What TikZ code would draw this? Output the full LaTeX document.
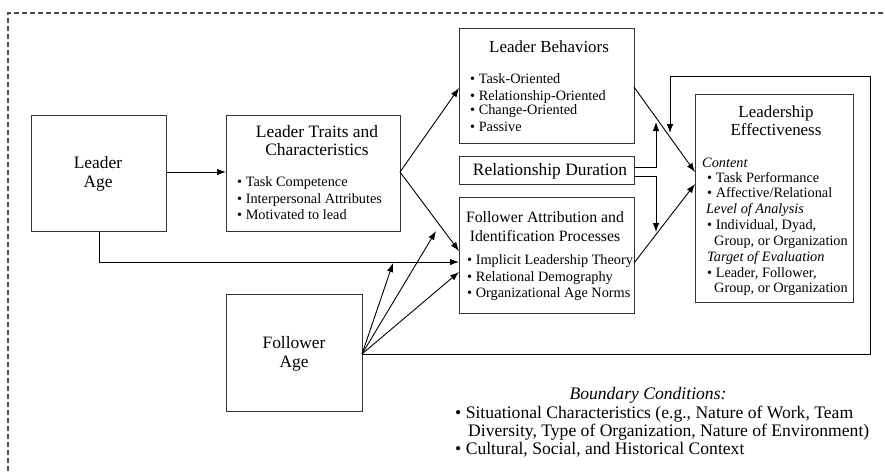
\documentclass[tikz,border=0pt]{standalone}
\usepackage{fontspec}
\setmainfont{Liberation Serif}
\usetikzlibrary{arrows.meta,calc}

\begin{document}
\begin{tikzpicture}[x=1pt,y=-1pt,
  box/.style={draw=black!80, line width=1.3pt, anchor=north west, inner sep=0pt},
  ttl/.style={font=\fontsize{17.4}{19}\selectfont, inner sep=0pt, text height=12pt, text depth=3.5pt},
  ttls/.style={ttl, font=\fontsize{15.8}{18}\selectfont},
  ttlm/.style={ttl, font=\fontsize{16.9}{18}\selectfont},
  itm/.style={font=\fontsize{14.3}{16}\selectfont, inner sep=0pt, text height=10pt, text depth=3pt, anchor=west},
  bnd/.style={font=\fontsize{17.6}{18}\selectfont, inner sep=0pt, text height=12pt, text depth=3.5pt, anchor=west},
  arr/.style={draw=black, line width=0.9pt, -{Latex[length=9pt,width=6.5pt]}},
  frame/.style={draw=black!70, line width=1.1pt, dash pattern=on 5pt off 3pt}
]
\useasboundingbox (0,0) rectangle (885,471);

% dashed boundary frame
\coordinate (frBL) at (8,471);
\coordinate (frTL) at (8,13);
\coordinate (frTR) at (885,13);
\draw[frame] (frBL) -- (frTL) -- (frTR);

% boxes
\node[box, minimum width=135pt, minimum height=116pt] (la)   at (31,115)  {};
\node[box, minimum width=174pt, minimum height=116pt] (lt)   at (226,115) {};
\node[box, minimum width=175pt, minimum height=115pt] (lb)   at (459,28)  {};
\node[box, minimum width=175pt, minimum height=28pt]  (rd)   at (459,156) {};
\node[box, minimum width=175pt, minimum height=116pt] (fa)   at (459,197) {};
\node[box, minimum width=158pt, minimum height=208pt] (le)   at (695,94)  {};
\node[box, minimum width=136pt, minimum height=117pt] (fage) at (226,294) {};

% Leader Age
\node[ttl] (la1) at (98,164) {Leader};
\node[ttl] (la2) at (98,183) {Age};

% Follower Age
\node[ttl] (fg1) at (294,344) {Follower};
\node[ttl] (fg2) at (294,363) {Age};

% Leader Traits and Characteristics
\node[ttl] (lt1) at (317,133) {Leader Traits and};
\node[ttl] (lt2) at (317,151) {Characteristics};
\node[itm] (lt3) at (237,183) {\textbullet\ Task Competence};
\node[itm] (lt4) at (237,199.5) {\textbullet\ Interpersonal Attributes};
\node[itm] (lt5) at (237,216) {\textbullet\ Motivated to lead};

% Leader Behaviors
\node[ttlm] (lb1) at (549,48) {Leader Behaviors};
\node[itm] (lb2) at (470,80) {\textbullet\ Task-Oriented};
\node[itm] (lb3) at (470,97) {\textbullet\ Relationship-Oriented};
\node[itm] (lb4) at (470,110.5) {\textbullet\ Change-Oriented};
\node[itm] (lb5) at (470,128) {\textbullet\ Passive};

% Relationship Duration
\node[ttl] (rd1) at (550,171) {Relationship Duration};

% Follower Attribution and Identification Processes
\node[ttls] (fa1) at (545,218) {Follower Attribution and};
\node[ttls] (fa2) at (545,237) {Identification Processes};
\node[itm] (fa3) at (467,261) {\textbullet\ Implicit Leadership Theory};
\node[itm] (fa4) at (467,278) {\textbullet\ Relational Demography};
\node[itm] (fa5) at (467,294) {\textbullet\ Organizational Age Norms};

% Leadership Effectiveness
\node[ttlm] (le1) at (776,113) {Leadership};
\node[ttlm] (le2) at (776,131) {Effectiveness};
\node[itm] (le3)  at (702,163.5) {\itshape Content};
\node[itm] (le4)  at (707,179) {\textbullet\ Task Performance};
\node[itm] (le5)  at (707,194) {\textbullet\ Affective/Relational};
\node[itm] (le6)  at (706,210) {\itshape Level of Analysis};
\node[itm] (le7)  at (707,226) {\textbullet\ Individual, Dyad,};
\node[itm] (le8)  at (714,242) {Group, or Organization};
\node[itm] (le9)  at (707,258) {\itshape Target of Evaluation};
\node[itm] (le10) at (707,273.5) {\textbullet\ Leader, Follower,};
\node[itm] (le11) at (714,289) {Group, or Organization};

% Boundary conditions
\node[bnd, anchor=center] (bc0) at (648,395) {\itshape Boundary Conditions:};
\node[bnd] (bc1) at (455,414) {\textbullet\ Situational Characteristics (e.g., Nature of Work, Team};
\node[bnd] (bc2) at (468,432) {Diversity, Type of Organization, Nature of Environment)};
\node[bnd] (bc3) at (455,450) {\textbullet\ Cultural, Social, and Historical Context};

% connector end points
\coordinate (ltOut)  at (400,172);
\coordinate (lbIn)   at (459,88);
\coordinate (faInT)  at (459,251);
\coordinate (faInL)  at (459,262);
\coordinate (faInF)  at (459,272);
\coordinate (fgOut)  at (362,354);
\coordinate (modLA)  at (393,263);
\coordinate (modLT)  at (436,231);
\coordinate (lbOut)  at (634,87);
\coordinate (leInB)  at (695,172);
\coordinate (faOut)  at (634,263);
\coordinate (leInF)  at (695,184);
\coordinate (rdOutU) at (634,167);
\coordinate (rdOutD) at (634,176);
\coordinate (rdX)    at (656,0);
\coordinate (modUp)  at (656,122);
\coordinate (modDn)  at (656,232);
\coordinate (loopR)  at (870,354);
\coordinate (loopT)  at (870,76);
\coordinate (modFb)  at (670,133);

% main paths
\draw[arr] (la.east |- ltOut) -- (lt.west |- ltOut);
\draw[arr] (ltOut) -- (lbIn);
\draw[arr] (ltOut) -- (faInT);
\draw[arr] (la.south) |- (faInL);
\draw[arr] (lbOut) -- (leInB);
\draw[arr] (faOut) -- (leInF);

% relationship duration as moderator
\draw[arr] (rdOutU) -- (rdOutU -| rdX) -- (modUp);
\draw[arr] (rdOutD) -- (rdOutD -| rdX) -- (modDn);

% follower age paths
\draw[arr] (fgOut) -- (modLA);
\draw[arr] (fgOut) -- (modLT);
\draw[arr] (fgOut) -- (faInF);
\draw[arr] (fgOut) -- (loopR) -- (loopT) -- (loopT -| modFb) -- (modFb);

\end{tikzpicture}
\end{document}
